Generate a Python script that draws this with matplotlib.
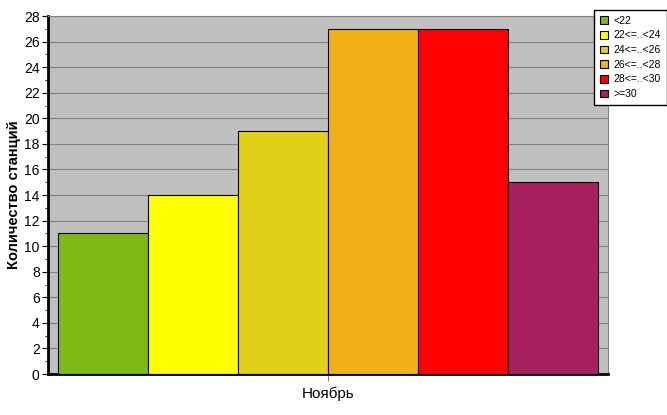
import matplotlib.pyplot as plt
from matplotlib.patches import Patch
from matplotlib.ticker import MultipleLocator

plt.rcParams['font.family'] = ['Liberation Sans', 'DejaVu Sans']

categories = ['<22', '22<=..<24', '24<=..<26', '26<=..<28', '28<=..<30', '>=30']
counts = [11, 14, 19, 27, 27, 15]
colors = ['#80B818', '#FFFF00', '#E0D018', '#F0B018', '#FF0000', '#A82060']
month = 'Ноябрь'

fig = plt.figure(figsize=(6.67, 4.15), dpi=100)
ax = fig.add_axes([48 / 667, 41 / 415, 560 / 667, 358 / 415])
ax.set_facecolor('#C0C0C0')

x = list(range(len(counts)))
ax.bar(x, counts, width=1.0, color=colors, edgecolor='black', linewidth=0.8, zorder=3)

ax.set_xlim(-0.5 - 1 / 9, len(counts) - 0.5 + 1 / 9)
ax.set_ylim(0, 28)
ax.yaxis.set_major_locator(MultipleLocator(2))
ax.yaxis.set_minor_locator(MultipleLocator(1))
ax.grid(axis='y', color='#808080', linewidth=0.8, zorder=0)
ax.set_xticks([(len(counts) - 1) / 2])
ax.set_xticklabels([month], fontsize=11)
ax.tick_params(axis='x', length=5, color='#808080', pad=4)
ax.tick_params(axis='y', which='major', length=4, labelsize=10, pad=2)
ax.tick_params(axis='y', which='minor', length=2)

for side in ['top', 'right']:
    ax.spines[side].set_color('#808080')
    ax.spines[side].set_linewidth(0.8)
for side in ['left', 'bottom']:
    ax.spines[side].set_linewidth(2)

ax.set_ylabel('Количество станций', fontsize=10.5, fontweight='bold', labelpad=2)

handles = [Patch(facecolor=c, edgecolor='black', linewidth=0.8) for c in colors]
leg = fig.legend(handles, categories, loc='upper left',
                 bbox_to_anchor=(594 / 667, 1 - 10 / 415),
                 fontsize=7.5, frameon=True, fancybox=False,
                 handlelength=0.75, handleheight=0.75, handletextpad=0.6,
                 labelspacing=0.45, borderpad=0.55, borderaxespad=0)
leg.get_frame().set_edgecolor('black')
leg.get_frame().set_linewidth(1)
leg.get_frame().set_alpha(1)

fig.savefig('out.png', dpi=100)
